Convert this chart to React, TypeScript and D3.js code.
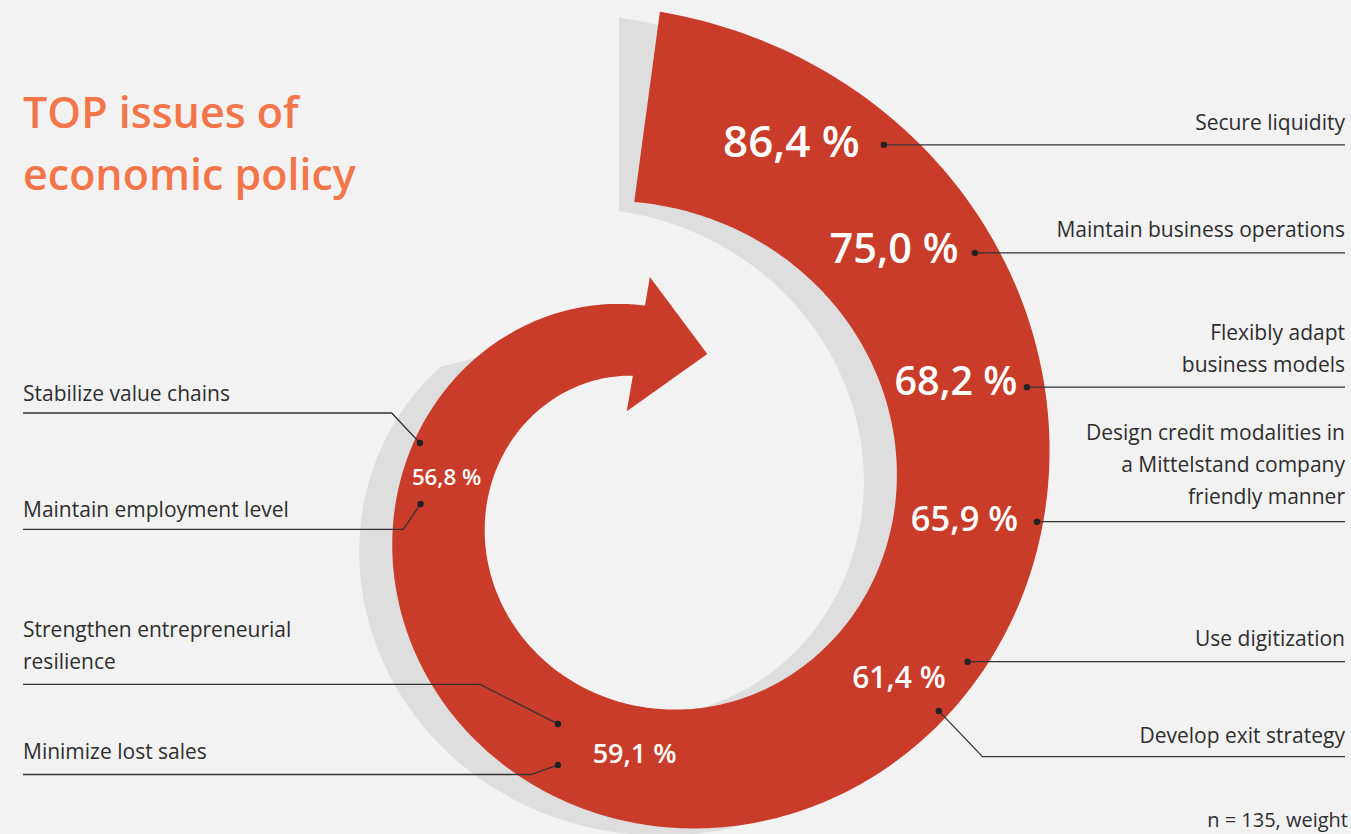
import React from 'react';
import * as d3 from 'd3';

// ---------- data ----------
const categories = [
  'Secure liquidity',
  'Maintain business operations',
  'Flexibly adapt business models',
  'Design credit modalities in a Mittelstand company friendly manner',
  'Use digitization',
  'Develop exit strategy',
  'Strengthen entrepreneurial resilience',
  'Minimize lost sales',
  'Stabilize value chains',
  'Maintain employment level',
];
const values = [86.4, 75.0, 68.2, 65.9, 61.4, 61.4, 59.1, 59.1, 56.8, 56.8];
const labelLines = [
  ['Secure liquidity'],
  ['Maintain business operations'],
  ['Flexibly adapt', 'business models'],
  ['Design credit modalities in', 'a Mittelstand company', 'friendly manner'],
  ['Use digitization'],
  ['Develop exit strategy'],
  ['Strengthen entrepreneurial', 'resilience'],
  ['Minimize lost sales'],
  ['Stabilize value chains'],
  ['Maintain employment level'],
];
const titleLines = ['TOP issues of', 'economic policy'];
const footnote = 'n = 135, weight';

// ---------- layout (positions along the spiral: angle, radial fraction) ----------
const side = ['r', 'r', 'r', 'r', 'r', 'r', 'l', 'l', 'l', 'l'];
const dotPolar = [
  [0.576, 0.856], [0.908, 0.866], [1.262, 0.888], [1.606, 0.958], [2.019, 0.872],
  [2.18, 0.93], [3.537, 0.404], [3.479, 0.732], [4.99, 0.93], [4.73, 0.725],
];
const bendOffset = [
  null, null, null, null, null, [43.7, 45.7], [-77.7, -39.5], [-27, 9.5], [-28.3, -30], [-17.4, 25.3],
];
const labelGap = [15, 16, 15, 18, 16, 14, 15, 16, 12, 12];
const valuePolar = [
  [0.373, 0.57], [0.758, 0.483], [1.18, 0.456], [1.604, 0.474], [2.165, 0.547], [3.196, 0.409], [4.867, 0.509],
];
const valueFont = [44, 41.5, 39.5, 34.5, 30, 27, 22.3];

const W = 1351, H = 834;
const CX = 648, CY = 508;
const RED = '#c83c29';
const SHADOW = '#dedede';
const BG = '#f2f2f2';
const TXT = '#2e2e2e';
const FONT = "'Open Sans', 'Noto Sans', sans-serif";

const rOut = (t: number) => 498 * Math.exp(-0.1436 * t);
const rIn = (t: number) => 304.5 * Math.exp(-0.1341 * t);
const P = (t: number, r: number, dx = 0, dy = 0): [number, number] => [
  CX + dx + r * Math.sin(t),
  CY + dy - r * Math.cos(t),
];
const along = (t: number, f: number): [number, number] => P(t, rIn(t) + f * (rOut(t) - rIn(t)));

const line = d3.line<[number, number]>();
const TAU = Math.PI * 2;

function spiralPath() {
  const N = 360;
  const tO0 = 0.024, tO1 = TAU - 0.015;
  const tI0 = -0.045, tI1 = TAU - 0.114;
  const outer = d3.range(N + 1).map((i) => {
    const t = tO0 + ((tO1 - tO0) * i) / N;
    return P(t, rOut(t));
  });
  const inner = d3.range(N + 1).map((i) => {
    const t = tI1 - ((tI1 - tI0) * i) / N;
    return P(t, rIn(t));
  });
  const O = P(tO1, rOut(tO1));
  const I = P(tI1, rIn(tI1));
  const len = Math.hypot(I[0] - O[0], I[1] - O[1]);
  const u = [(I[0] - O[0]) / len, (I[1] - O[1]) / len];
  const perp = [u[1], -u[0]];
  const top: [number, number] = [O[0] - u[0] * 29, O[1] - u[1] * 29];
  const bot: [number, number] = [I[0] + u[0] * 36, I[1] + u[1] * 36];
  const mid = [(top[0] + bot[0]) / 2, (top[1] + bot[1]) / 2];
  const tip: [number, number] = [mid[0] + perp[0] * 70, mid[1] + perp[1] * 70 - 2];
  return line([...outer, top, tip, bot, ...inner]) + 'Z';
}

function shadowPath() {
  const N = 300;
  const dx = -33, dy = 7;
  const tO0 = 0.008, tI0 = 0.013, tE = 1.725 * Math.PI;
  const outer = d3.range(N + 1).map((i) => {
    const t = tO0 + ((tE - tO0) * i) / N;
    return P(t, rOut(t), dx, dy);
  });
  // end cut slanted toward the red band so the shadow tapers
  const endPt = P(tE + 0.06, rOut(tE + 0.06) - 6);
  const inner = d3.range(N + 1).map((i) => {
    const t = tE - ((tE - tI0) * i) / N;
    return P(t, rIn(t), dx, dy);
  });
  return line([...outer, endPt, ...inner]) + 'Z';
}

const locale = d3.formatLocale({ decimal: ',', thousands: '.', grouping: [3], currency: ['', '€'] });
const fmt = locale.format('.1f');

export default function App() {
  const uniqueValues = Array.from(new Set(values));
  const items = categories.map((c, i) => {
    const dot = along(dotPolar[i][0], dotPolar[i][1]);
    const pts: [number, number][] = [dot];
    const b = bendOffset[i];
    if (b) pts.push([dot[0] + b[0], dot[1] + b[1]]);
    const last = pts[pts.length - 1];
    const endX = side[i] === 'r' ? 1345 : 23;
    pts.push([endX, last[1]]);
    return { c, i, dot, pts, lineY: last[1] };
  });

  return (
    <svg
      width={W}
      height={H}
      viewBox={`0 0 ${W} ${H}`}
      style={{ position: 'absolute', left: 0, top: 0, display: 'block' }}
    >
      <rect x={0} y={0} width={W} height={H} fill={BG} />
      <path d={shadowPath()} fill={SHADOW} />
      <path d={spiralPath()} fill={RED} />

      {/* title */}
      {titleLines.map((t, i) => (
        <text
          key={t}
          x={23}
          y={128 + i * 62}
          fontFamily={FONT}
          fontWeight={600}
          fontSize={43}
          fill="#f2764a"
        >
          {t}
        </text>
      ))}

      {/* value labels */}
      {uniqueValues.map((v, k) => {
        const [t, f] = valuePolar[k];
        const c = along(t, f);
        const fs = valueFont[k];
        return (
          <text
            key={v}
            x={c[0]}
            y={c[1] + 0.357 * fs}
            textAnchor="middle"
            fontFamily={FONT}
            fontWeight={600}
            fontSize={fs}
            fill="#ffffff"
          >
            {`${fmt(v)} %`}
          </text>
        );
      })}

      {/* leaders and category labels */}
      {items.map(({ i, dot, pts, lineY }) => {
        const right = side[i] === 'r';
        const lines = labelLines[i];
        const gap = labelGap[i];
        return (
          <g key={i}>
            <path d={line(pts) as string} fill="none" stroke="#333" strokeWidth={1.3} />
            <circle cx={dot[0]} cy={dot[1]} r={3.2} fill="#222" />
            {lines.map((ln, j) => (
              <text
                key={j}
                x={right ? 1345 : 23}
                y={lineY - gap - (lines.length - 1 - j) * 32}
                textAnchor={right ? 'end' : 'start'}
                fontFamily={FONT}
                fontSize={21}
                fill={TXT}
              >
                {ln}
              </text>
            ))}
          </g>
        );
      })}

      <text x={1348} y={827} textAnchor="end" fontFamily={FONT} fontSize={20} fill={TXT}>
        {footnote}
      </text>
    </svg>
  );
}
